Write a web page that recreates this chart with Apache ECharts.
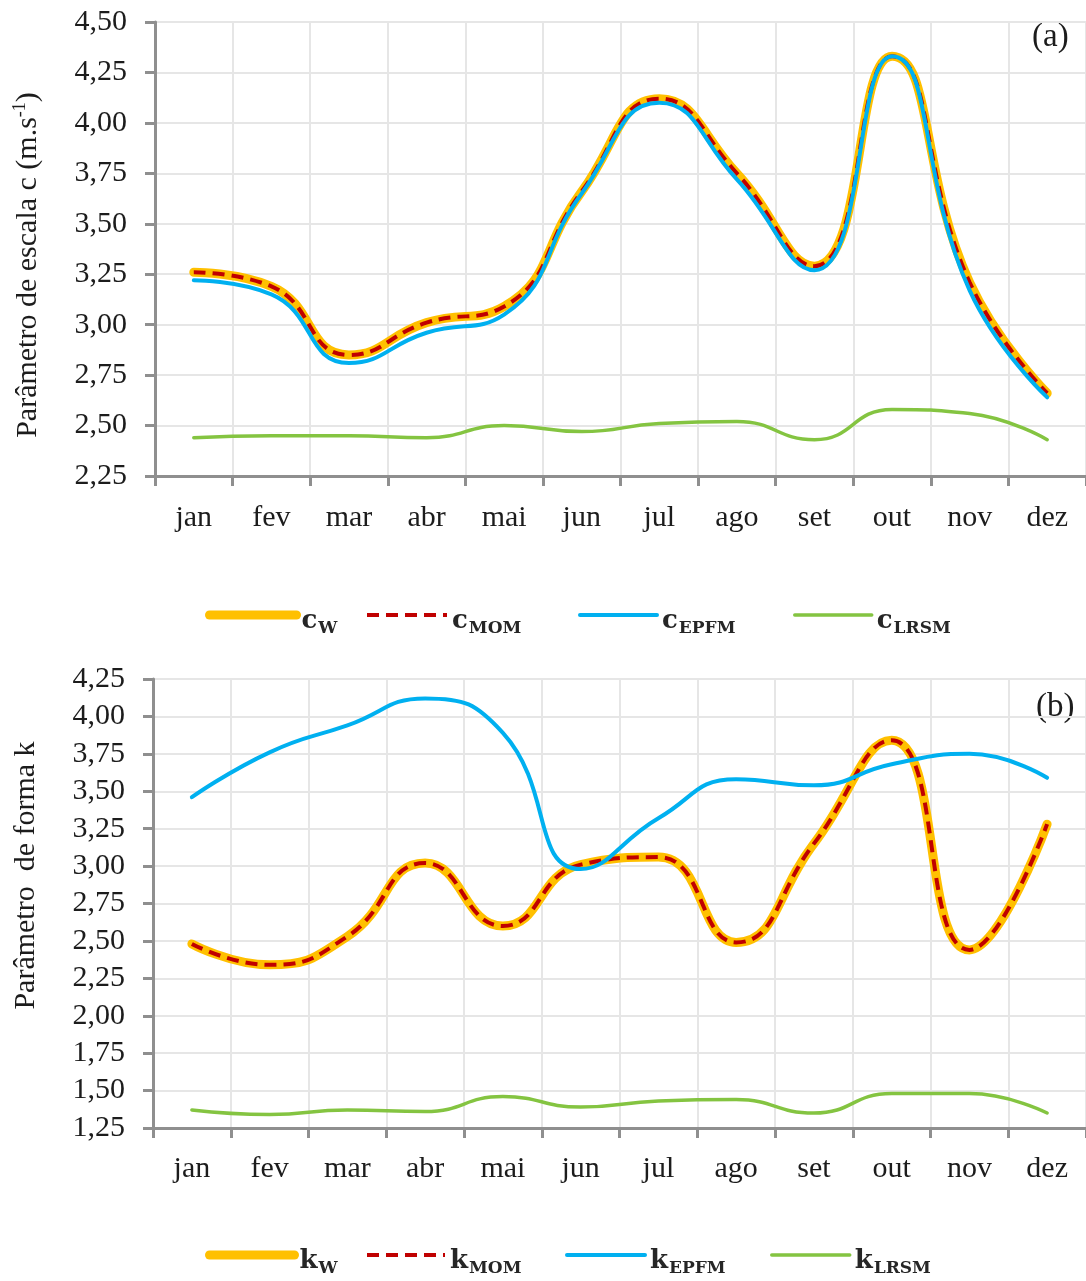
<!DOCTYPE html>
<html>
<head>
<meta charset="utf-8">
<title>Parâmetros de Weibull</title>
<script src="https://cdn.jsdelivr.net/npm/echarts@6/dist/echarts.min.js"></script>
<style>
  html, body { margin: 0; padding: 0; background: #ffffff; }
  #chart { width: 1086px; height: 1281px; }
</style>
</head>
<body>
<div id="chart"></div>
<script>
// Meses do ano
const months = ['jan', 'fev', 'mar', 'abr', 'mai', 'jun', 'jul', 'ago', 'set', 'out', 'nov', 'dez'];

// (a) Parâmetro de escala c (m/s)
const cW    = [3.26, 3.19, 2.85, 3.01, 3.09, 3.66, 4.12, 3.75, 3.29, 4.33, 3.21, 2.66];
const cMOM  = [3.26, 3.19, 2.85, 3.01, 3.09, 3.66, 4.12, 3.75, 3.29, 4.33, 3.21, 2.66];
const cEPFM = [3.22, 3.15, 2.81, 2.96, 3.05, 3.65, 4.10, 3.72, 3.27, 4.33, 3.17, 2.64];
const cLRSM = [2.44, 2.45, 2.45, 2.44, 2.50, 2.47, 2.51, 2.52, 2.43, 2.58, 2.56, 2.43];

// (b) Parâmetro de forma k
const kW    = [2.48, 2.34, 2.53, 3.02, 2.60, 3.01, 3.06, 2.49, 3.15, 3.84, 2.44, 3.28];
const kMOM  = [2.48, 2.34, 2.53, 3.02, 2.60, 3.01, 3.06, 2.49, 3.15, 3.84, 2.44, 3.28];
const kEPFM = [3.46, 3.76, 3.94, 4.12, 3.89, 2.98, 3.32, 3.58, 3.54, 3.68, 3.75, 3.59];
const kLRSM = [1.37, 1.34, 1.37, 1.36, 1.46, 1.39, 1.43, 1.44, 1.35, 1.48, 1.48, 1.35];

// Eixos
const cAxis = { min: 2.25, max: 4.50, step: 0.25 };
const kAxis = { min: 1.25, max: 4.25, step: 0.25 };

const SERIF = 'Liberation Serif';
const LEG_FONT = 'DejaVu Serif';
const TEXT = '#1c1c1c';
const AXIS = '#8f8f8f';
const GRID = '#e6e6e6';

const styles = {
  W:    { color: '#FFC000', width: 9, type: 'solid', cap: 'round' },
  MOM:  { color: '#C00000', width: 4, type: [12, 7], cap: 'butt' },
  EPFM: { color: '#00B0F0', width: 4, type: 'solid', cap: 'round' },
  LRSM: { color: '#84C441', width: 3.5, type: 'solid', cap: 'round' }
};

const fmtComma = v => v.toFixed(2).replace('.', ',');

function xAxis(gridIndex, margin) {
  return {
    type: 'category', gridIndex, data: months, boundaryGap: true,
    axisLine: { show: true, lineStyle: { color: AXIS, width: 3 } },
    axisTick: { show: true, length: 10, lineStyle: { color: AXIS, width: 3 } },
    axisLabel: { fontFamily: SERIF, fontSize: 30, color: TEXT, margin },
    splitLine: { show: true, lineStyle: { color: GRID, width: 2 } }
  };
}

function yAxis(gridIndex, ax, name, nameGap, namePad) {
  return {
    type: 'value', gridIndex, min: ax.min, max: ax.max, interval: ax.step,
    name, nameLocation: 'middle', nameGap, nameRotate: 90,
    nameTextStyle: {
      fontFamily: SERIF, fontSize: 30, lineHeight: 34, color: TEXT, padding: namePad,
      rich: { sup: { fontFamily: SERIF, fontSize: 18, lineHeight: 17, verticalAlign: 'top', color: TEXT } }
    },
    axisLine: { show: true, lineStyle: { color: AXIS, width: 3 } },
    axisTick: { show: true, length: 10, lineStyle: { color: AXIS, width: 3 } },
    axisLabel: { fontFamily: SERIF, fontSize: 30, color: TEXT, margin: 28, formatter: fmtComma },
    splitLine: { show: true, lineStyle: { color: GRID, width: 2 } }
  };
}

function lineSeries(prefix, key, data, idx) {
  const s = styles[key];
  return {
    name: prefix + key, type: 'line', xAxisIndex: idx, yAxisIndex: idx,
    data, smooth: true, symbol: 'none', color: s.color,
    lineStyle: { color: s.color, width: s.width, type: s.type, cap: s.cap },
    emphasis: { disabled: true }
  };
}

function legendItem(name, key, left, top, width) {
  const s = styles[key];
  return {
    data: [name], left, top, padding: 0, itemWidth: width, itemHeight: 14,
    selectedMode: false,
    itemStyle: { color: 'rgba(0,0,0,0)', borderWidth: 0, opacity: 0 },
    lineStyle: { color: s.color, width: s.width, type: s.type, cap: key === 'MOM' ? 'butt' : 'round', opacity: 1 },
    formatter: n => '{m|' + n.charAt(0) + '}{s|' + n.slice(1) + '}',
    textStyle: {
      color: TEXT,
      rich: {
        m: { fontFamily: LEG_FONT, fontSize: 26, fontWeight: 'bold', lineHeight: 30, padding: [8, 0, 0, 0], verticalAlign: 'top', color: '#262626' },
        s: { fontFamily: LEG_FONT, fontSize: 17, fontWeight: 'bold', lineHeight: 17, padding: [20, 0, 0, 1], verticalAlign: 'top', color: '#262626' }
      }
    }
  };
}

const chart = echarts.init(document.getElementById('chart'), null, { renderer: 'canvas' });

chart.setOption({
  backgroundColor: '#ffffff',
  animation: false,
  grid: [
    { left: 155, top: 22, width: 934, height: 454 },
    { left: 153, top: 679, width: 934, height: 449 }
  ],
  xAxis: [xAxis(0, 27), xAxis(1, 26)],
  yAxis: [
    yAxis(0, cAxis, 'Parâmetro de escala c (m.s{sup|-1})', 110, [0, 32, 0, 0]),
    yAxis(1, kAxis, 'Parâmetro  de forma k', 110, [0, 0, 0, 56])
  ],
  legend: [
    legendItem('cW', 'W', 205, 600, 87),
    legendItem('cMOM', 'MOM', 365, 600, 80),
    legendItem('cEPFM', 'EPFM', 578, 600, 77),
    legendItem('cLRSM', 'LRSM', 793, 600, 77),
    legendItem('kW', 'W', 205, 1240, 85),
    legendItem('kMOM', 'MOM', 365, 1240, 78),
    legendItem('kEPFM', 'EPFM', 565, 1240, 78),
    legendItem('kLRSM', 'LRSM', 770, 1240, 78)
  ],
  graphic: [
    { type: 'text', left: 1032, top: 21, style: { text: '(a)', fontFamily: SERIF, fontSize: 33, fill: TEXT } },
    { type: 'text', left: 1036, top: 691, style: { text: '(b)', fontFamily: SERIF, fontSize: 33, fill: TEXT } }
  ],
  series: [
    lineSeries('c', 'W', cW, 0),
    lineSeries('c', 'MOM', cMOM, 0),
    lineSeries('c', 'EPFM', cEPFM, 0),
    lineSeries('c', 'LRSM', cLRSM, 0),
    lineSeries('k', 'W', kW, 1),
    lineSeries('k', 'MOM', kMOM, 1),
    lineSeries('k', 'EPFM', kEPFM, 1),
    lineSeries('k', 'LRSM', kLRSM, 1)
  ]
});
</script>
</body>
</html>
